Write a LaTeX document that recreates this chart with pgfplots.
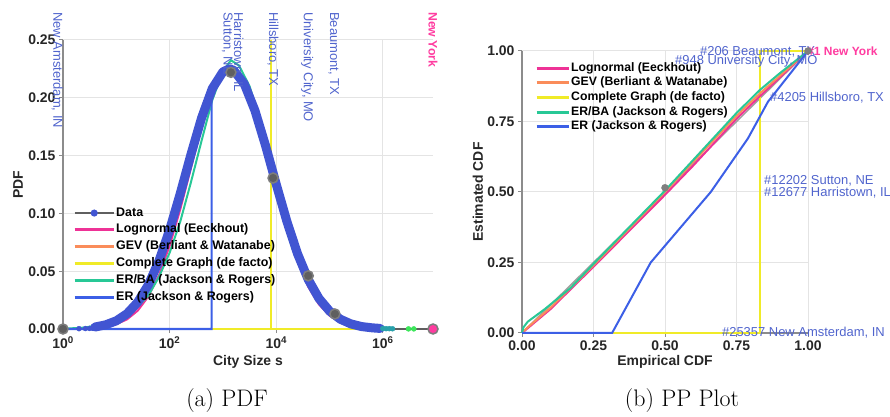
\documentclass[border=0pt]{standalone}
\usepackage{fontspec}
\usepackage{pgfplots}
\pgfplotsset{compat=1.18}
\newfontfamily\sans{Liberation Sans}
\definecolor{cpink}{RGB}{238,50,150}
\definecolor{corange}{RGB}{250,140,90}
\definecolor{cyellow}{RGB}{240,235,40}
\definecolor{cteal}{RGB}{40,200,150}
\definecolor{cer}{RGB}{60,95,230}
\definecolor{cdata}{RGB}{65,85,210}
\definecolor{cgray}{RGB}{95,95,95}
\definecolor{cgrayedge}{RGB}{125,125,125}
\definecolor{clabel}{RGB}{80,100,205}
\definecolor{cny}{RGB}{255,60,160}
\definecolor{caxis}{RGB}{140,140,140}
\definecolor{cgrid}{RGB}{228,228,228}
\definecolor{ctail}{RGB}{40,160,170}
\definecolor{cgreen}{RGB}{60,230,90}
\pgfplotsset{
  common/.style={
    scale only axis, clip=false,
    axis lines*=left,
    axis line style={draw=caxis, line width=1.6bp},
    grid=major, grid style={draw=cgrid, line width=1bp},
    tick style={draw=caxis, line width=1bp},
    major tick length=4bp, tick align=outside,
    tick label style={font=\sans\bfseries\fontsize{14}{16}\selectfont, text=black!85},
    legend cell align=left,
  },
}
\begin{document}
\begin{tikzpicture}
\path[use as bounding box] (0bp,0bp) rectangle (890bp,417bp);
% ---------------- (a) PDF ----------------
\begin{axis}[common,
  at={(63bp,88bp)}, anchor=south west, width=370bp, height=289bp,
  xmin=0, xmax=6.94, ymin=0, ymax=0.25,
  xtick={0,2,4,6},
  xticklabels={10\textsuperscript{0},10\textsuperscript{2},10\textsuperscript{4},10\textsuperscript{6}},
  ytick={0,0.05,0.10,0.15,0.20,0.25},
  yticklabels={0.00,0.05,0.10,0.15,0.20,0.25},
  xlabel={City Size s}, ylabel={PDF},
  every axis x label/.style={at={(axis description cs:0.5,-0.114)}, anchor=center, font=\sans\bfseries\fontsize{14}{16}\selectfont, text=black!85},
  every axis y label/.style={at={(axis description cs:-0.1216,0.5)}, anchor=center, rotate=90, font=\sans\bfseries\fontsize{14}{16}\selectfont, text=black!85},
  legend style={at={(0.019,0.433)}, anchor=north west, draw=none, fill=none,
    font=\sans\bfseries\fontsize{12.5}{14}\selectfont,
    nodes={inner sep=1bp, text height=9bp, text depth=3bp}, row sep=2.8bp},
  legend image code/.code={\draw[mark repeat=2,mark phase=2] plot coordinates {(0bp,0bp) (19.5bp,0bp) (39bp,0bp)};},
]
\addlegendimage{color=cgray, line width=2bp, mark=*, mark size=2.5bp, mark options={fill=cdata, draw=cdata}}
\addlegendentry{Data}
\addlegendimage{color=cpink, line width=3bp}
\addlegendentry{Lognormal (Eeckhout)}
\addlegendimage{color=corange, line width=3bp}
\addlegendentry{GEV (Berliant \& Watanabe)}
\addlegendimage{color=cyellow, line width=3bp}
\addlegendentry{Complete Graph (de facto)}
\addlegendimage{color=cteal, line width=3bp}
\addlegendentry{ER/BA (Jackson \& Rogers)}
\addlegendimage{color=cer, line width=3bp}
\addlegendentry{ER (Jackson \& Rogers)}
% Complete graph
\addplot[forget plot, color=cyellow, line width=2bp] coordinates {(0,0) (3.91,0) (3.91,0.25) (3.91,0) (5.9,0)};
% Lognormal
\addplot[forget plot, color=cpink, line width=2bp] coordinates {
(0.4,0.0003)(0.8,0.0019)(1.0,0.0041)(1.2,0.0083)(1.4,0.0158)(1.6,0.0281)(1.8,0.0465)(2.0,0.0719)(2.2,0.1036)(2.4,0.1392)(2.6,0.1745)(2.8,0.2041)(3.0,0.2226)(3.15,0.227)(3.2,0.2265)(3.4,0.2150)(3.6,0.1903)(3.8,0.1572)(4.0,0.1211)(4.2,0.0870)(4.4,0.0583)(4.6,0.0365)(4.8,0.0213)(5.0,0.0116)(5.2,0.0059)(5.4,0.0028)(5.6,0.0012)(6.0,0.0002)};
% GEV
\addplot[forget plot, color=corange, line width=2bp] coordinates {
(0.4,0.0006)(0.8,0.0030)(1.0,0.0062)(1.2,0.0118)(1.4,0.0212)(1.6,0.0356)(1.8,0.0561)(2.0,0.0829)(2.2,0.1148)(2.4,0.1493)(2.6,0.1820)(2.8,0.2082)(3.0,0.2234)(3.12,0.226)(3.2,0.2248)(3.4,0.2123)(3.6,0.1880)(3.8,0.1561)(4.0,0.1216)(4.2,0.0889)(4.4,0.0609)(4.6,0.0392)(4.8,0.0236)(5.0,0.0134)(5.2,0.0071)(5.4,0.0035)(5.6,0.0017)(6.0,0.0003)};
% ER/BA
\addplot[forget plot, color=cteal, line width=2bp] coordinates {
(0,0.0002)(0.4,0.0012)(0.8,0.0045)(1.0,0.0075)(1.2,0.012)(1.4,0.019)(1.6,0.029)(1.8,0.045)(2.0,0.066)(2.2,0.093)(2.4,0.127)(2.6,0.163)(2.8,0.198)(3.0,0.223)(3.15,0.2325)(3.3,0.228)(3.5,0.210)(3.7,0.180)(3.9,0.140)(4.1,0.100)(4.3,0.070)(4.5,0.050)(4.7,0.031)(4.9,0.017)(5.1,0.009)(5.3,0.004)(5.5,0.0018)(5.8,0.0005)(6.2,0.0001)};
% ER
\addplot[forget plot, color=cer, line width=2bp] coordinates {
(0,0)(2.79,0)(2.79,0.205)(2.86,0.216)(3.05,0.222)(3.2,0.224)(3.4,0.212)(3.6,0.189)(3.8,0.158)(4.0,0.125)(4.2,0.093)(4.4,0.065)(4.6,0.043)(4.8,0.026)(5.0,0.015)(5.2,0.008)(5.4,0.004)(5.6,0.002)(6.0,0.0004)};
% Data (dense points)
\addplot[forget plot, color=cgray, line width=1.5bp] coordinates {(5.9,0)(6.94,0)};
\addplot[forget plot, color=cdata, line width=9bp, line join=round, line cap=round] coordinates {
(0.6,0.0017)(0.8,0.0036)(1.0,0.0071)(1.2,0.0132)(1.4,0.0231)(1.6,0.0381)(1.8,0.0589)(2.0,0.0857)(2.2,0.1173)(2.4,0.1510)(2.6,0.1827)(2.8,0.2080)(3.0,0.2225)(3.12,0.225)(3.2,0.2239)(3.4,0.2120)(3.6,0.1890)(3.8,0.1585)(4.0,0.1251)(4.2,0.0930)(4.4,0.0650)(4.6,0.0428)(4.8,0.0265)(5.0,0.0155)(5.2,0.0085)(5.4,0.0044)(5.6,0.0021)(5.8,0.0010)(5.95,0.0005)};
\addplot[forget plot, only marks, mark=*, mark size=2.5bp, color=cdata] coordinates {(0.3,0.0003)(0.42,0.0004)(0.5,0.0005)(0.56,0.0006)};
\addplot[forget plot, only marks, mark=*, mark size=2.5bp, color=ctail] coordinates {(6.0,0.0004)(6.06,0.0003)(6.12,0.0003)(6.18,0.0002)};
\addplot[forget plot, only marks, mark=*, mark size=2.5bp, color=cgreen] coordinates {(6.48,0.0001)(6.58,0.0001)};
\addplot[forget plot, only marks, mark=*, mark size=5bp, mark options={fill=cgray, draw=cgrayedge, line width=1.5bp}] coordinates {(0,0)(3.15,0.222)(3.94,0.1306)(4.60,0.046)(5.10,0.013)};
\addplot[forget plot, only marks, mark=*, mark size=5bp, mark options={fill=cny, draw=cgrayedge, line width=1.5bp}] coordinates {(6.94,0)};
% city labels
\begin{scope}[every node/.style={rotate=-90, anchor=west, inner sep=0pt, font=\sans\fontsize{13}{15}\selectfont, text=clabel}]
\node at (axis cs:-0.11,0.2742) {New Amsterdam, IN};
\node at (axis cs:3.08,0.2742) {Sutton, NE};
\node at (axis cs:3.28,0.2742) {Harristown, IL};
\node at (axis cs:3.94,0.2742) {Hillsboro, TX};
\node at (axis cs:4.58,0.2742) {University City, MO};
\node at (axis cs:5.08,0.2742) {Beaumont, TX};
\node[font=\sans\bfseries\fontsize{12.3}{14}\selectfont, text=cny] at (axis cs:6.94,0.2742) {New York};
\end{scope}
\end{axis}
% ---------------- (b) PP Plot ----------------
\begin{axis}[common,
  at={(522bp,84bp)}, anchor=south west, width=286bp, height=282bp,
  xmin=0, xmax=1, ymin=0, ymax=1,
  xtick={0,0.25,0.5,0.75,1}, xticklabels={0.00,0.25,0.50,0.75,1.00},
  ytick={0,0.25,0.5,0.75,1}, yticklabels={0.00,0.25,0.50,0.75,1.00},
  xlabel={Empirical CDF}, ylabel={Estimated CDF},
  every axis x label/.style={at={(axis description cs:0.5,-0.103)}, anchor=center, font=\sans\bfseries\fontsize{14}{16}\selectfont, text=black!85},
  every axis y label/.style={at={(axis description cs:-0.154,0.5)}, anchor=center, rotate=90, font=\sans\bfseries\fontsize{14}{16}\selectfont, text=black!85},
  legend style={at={(0.035,0.972)}, anchor=north west, draw=none, fill=none,
    font=\sans\bfseries\fontsize{12.3}{14}\selectfont,
    nodes={inner sep=1bp, text height=9bp, text depth=3bp}, row sep=0.7bp},
  legend image code/.code={\draw plot coordinates {(0bp,0bp) (32bp,0bp)};},
]
\addlegendimage{color=cpink, line width=3bp}
\addlegendentry{Lognormal (Eeckhout)}
\addlegendimage{color=corange, line width=3bp}
\addlegendentry{GEV (Berliant \& Watanabe)}
\addlegendimage{color=cyellow, line width=3bp}
\addlegendentry{Complete Graph (de facto)}
\addlegendimage{color=cteal, line width=3bp}
\addlegendentry{ER/BA (Jackson \& Rogers)}
\addlegendimage{color=cer, line width=3bp}
\addlegendentry{ER (Jackson \& Rogers)}
\addplot[forget plot, color=cgray!60, line width=1.5bp] coordinates {(0,0)(1,1)};
\addplot[forget plot, only marks, mark=*, mark size=3.5bp, mark options={fill=cgray!80, draw=cgrayedge}] coordinates {(0.5,0.515)};
\addplot[forget plot, color=cyellow, line width=2bp] coordinates {(0,0)(0.832,0)(0.832,1)(1,1)};
\addplot[forget plot, color=cpink, line width=2bp] coordinates {(0,0)(0.1,0.085)(0.25,0.235)(0.5,0.49)(0.6,0.595)(0.75,0.76)(0.832,0.84)(1,1)};
\addplot[forget plot, color=corange, line width=2bp] coordinates {(0,0)(0.02,0.02)(0.1,0.09)(0.25,0.24)(0.5,0.5)(0.75,0.77)(0.832,0.85)(1,1)};
\addplot[forget plot, color=cteal, line width=2bp] coordinates {(0,0)(0.005,0.02)(0.02,0.04)(0.08,0.085)(0.17,0.16)(0.25,0.245)(0.5,0.505)(0.75,0.78)(0.832,0.862)(0.9,0.92)(1,1)};
\addplot[forget plot, color=cer, line width=2bp] coordinates {(0,0)(0.315,0)(0.45,0.25)(0.66,0.5)(0.79,0.69)(0.86,0.82)(1,1)};
\addplot[forget plot, only marks, mark=*, mark size=3.5bp, mark options={fill=cgray!80, draw=cgrayedge}] coordinates {(1,1)};
\begin{scope}[every node/.style={anchor=west, inner sep=0pt, font=\sans\fontsize{13}{15}\selectfont, text=clabel}]
\node at (axis cs:0.622,0.996) {\#206 Beaumont, TX};
\node at (axis cs:0.535,0.965) {\#948 University City, MO};
\node at (axis cs:0.867,0.833) {\#4205 Hillsboro, TX};
\node at (axis cs:0.846,0.539) {\#12202 Sutton, NE};
\node at (axis cs:0.846,0.496) {\#12677 Harristown, IL};
\node at (axis cs:0.699,0.0) {\#25357 New Amsterdam, IN};
\node[font=\sans\bfseries\fontsize{12}{14}\selectfont, text=cny] at (axis cs:0.997,1.0) {\#1 New York};
\end{scope}
\end{axis}
% captions
\node[anchor=base, font=\fontsize{24}{28}\selectfont] at (227bp,10.5bp) {(a) PDF};
\node[anchor=base, font=\fontsize{24}{28}\selectfont] at (682bp,10.5bp) {(b) PP Plot};
\end{tikzpicture}
\end{document}
